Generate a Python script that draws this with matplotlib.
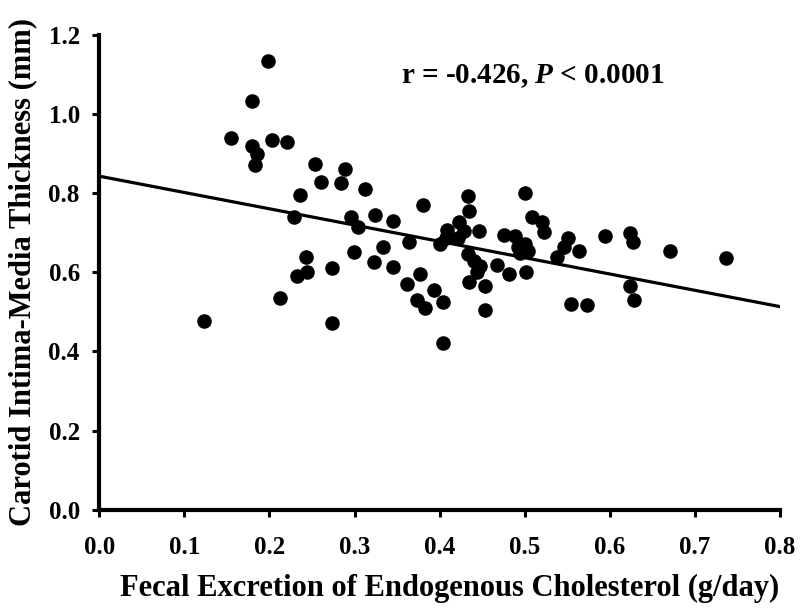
import matplotlib
matplotlib.use("Agg")
import matplotlib.pyplot as plt
import numpy as np

# fecal excretion of endogenous cholesterol (g/day)
fecal = [0.198, 0.179, 0.155, 0.180, 0.185, 0.183, 0.203, 0.221, 0.254, 0.289,
         0.261, 0.284, 0.312, 0.236, 0.380, 0.229, 0.296, 0.304, 0.324, 0.345,
         0.364, 0.334, 0.299, 0.323, 0.345, 0.377, 0.400, 0.243, 0.273, 0.233,
         0.244, 0.362, 0.394, 0.373, 0.383, 0.404, 0.213, 0.123, 0.273, 0.404,
         0.433, 0.434, 0.500, 0.423, 0.409, 0.429, 0.446, 0.422, 0.408, 0.433,
         0.440, 0.448, 0.444, 0.434, 0.453, 0.453, 0.467, 0.481, 0.502, 0.476,
         0.489, 0.500, 0.492, 0.504, 0.494, 0.509, 0.520, 0.523, 0.551, 0.546,
         0.538, 0.564, 0.554, 0.573, 0.594, 0.624, 0.627, 0.624, 0.628, 0.671,
         0.737]
# carotid intima-media thickness (mm)
cimt = [1.134, 1.034, 0.940, 0.920, 0.899, 0.870, 0.935, 0.930, 0.875, 0.860,
        0.829, 0.825, 0.810, 0.795, 0.770, 0.739, 0.741, 0.714, 0.745, 0.730,
        0.676, 0.664, 0.651, 0.626, 0.613, 0.597, 0.671, 0.640, 0.610, 0.590,
        0.600, 0.571, 0.555, 0.530, 0.510, 0.525, 0.535, 0.476, 0.471, 0.422,
        0.792, 0.754, 0.800, 0.726, 0.706, 0.705, 0.705, 0.688, 0.688, 0.646,
        0.628, 0.615, 0.602, 0.575, 0.566, 0.506, 0.619, 0.596, 0.600, 0.695,
        0.691, 0.671, 0.665, 0.653, 0.650, 0.741, 0.727, 0.701, 0.686, 0.665,
        0.640, 0.655, 0.520, 0.517, 0.691, 0.699, 0.676, 0.565, 0.531, 0.655,
        0.636]

# regression line
intercept = 0.843
slope = -0.412
line_x = [0.0, 0.8]

plt.rcParams['font.family'] = ['Liberation Serif', 'DejaVu Serif']
plt.rcParams['font.weight'] = 'bold'
plt.rcParams['mathtext.fontset'] = 'custom'
plt.rcParams['mathtext.it'] = 'Liberation Serif:italic:bold'
plt.rcParams['mathtext.rm'] = 'Liberation Serif:bold'

fig = plt.figure(figsize=(8, 6.12), dpi=100)
ax = fig.add_axes([0.124, 0.167, 0.851, 0.776])

ax.scatter(fecal, cimt, s=110, color='black', zorder=3, linewidths=0)
ax.plot(line_x, [intercept + slope * v for v in line_x], color='black', lw=2.3)

ax.set_xlim(0, 0.8)
ax.set_ylim(0, 1.2)
xt = np.arange(0, 0.81, 0.1)
yt = np.arange(0, 1.21, 0.2)
ax.set_xticks(xt)
ax.set_yticks(yt)
ax.set_xticklabels(['%.1f' % v for v in xt], fontsize=18, fontweight='bold')
ax.set_yticklabels(['%.1f' % v for v in yt], fontsize=18, fontweight='bold')

for s in ['top', 'right']:
    ax.spines[s].set_visible(False)
for s in ['left', 'bottom']:
    ax.spines[s].set_linewidth(3)
ax.tick_params(axis='both', direction='out', length=5, width=2.2)
ax.tick_params(axis='x', pad=14)
ax.tick_params(axis='y', pad=9)

ax.set_xlabel('Fecal Excretion of Endogenous Cholesterol (g/day)', fontsize=22,
              fontweight='bold')
ax.xaxis.set_label_coords(0.515, -0.136)
ax.set_ylabel('Carotid Intima-Media Thickness (mm)', fontsize=22, fontweight='bold',
              labelpad=8)

ax.text(0.355, 1.095, r'r = -0.426, $P$ < 0.0001', fontsize=21,
        fontweight='bold', va='center', ha='left')

fig.savefig('out.png', dpi=100)
